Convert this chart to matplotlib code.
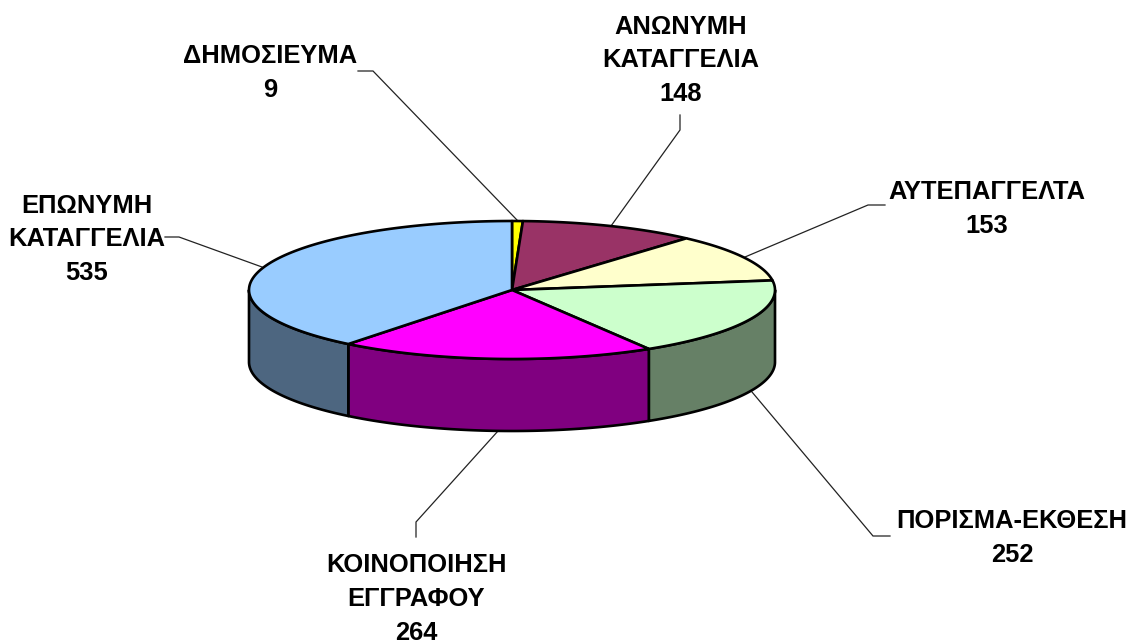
import numpy as np
import matplotlib
matplotlib.use("Agg")
import matplotlib.pyplot as plt
from matplotlib.patches import Polygon

categories = ["ΔΗΜΟΣΙΕΥΜΑ", "ΑΝΩΝΥΜΗ\nΚΑΤΑΓΓΕΛΙΑ", "ΑΥΤΕΠΑΓΓΕΛΤΑ",
              "ΠΟΡΙΣΜΑ-ΕΚΘΕΣΗ", "ΚΟΙΝΟΠΟΙΗΣΗ\nΕΓΓΡΑΦΟΥ", "ΕΠΩΝΥΜΗ\nΚΑΤΑΓΓΕΛΙΑ"]
values = [9, 148, 153, 252, 264, 535]
top_colors = ["#FFFF00", "#993366", "#FFFFCC", "#CCFFCC", "#FF00FF", "#99CCFF"]
side_colors = ["#808000", "#4D1A33", "#808066", "#668066", "#800080", "#4D6680"]

CX, CY, RX, RY, DEPTH = 512, 290, 263, 69, 72
label_pos = [(270, 73), (681, 60), (987, 209), (1012, 538), (416, 599), (87, 239)]
leaders = [
    [(358, 71), (373, 71), (517, 220)],
    [(680, 115), (680, 130), (611, 226)],
    [(885, 205), (868, 205), (745, 257)],
    [(890, 536), (873, 536), (752, 392)],
    [(416, 537), (416, 522), (498, 431)],
    [(165, 237), (179, 237), (262, 267)],
]

plt.rcParams["font.family"] = ["Liberation Sans", "DejaVu Sans"]
fig = plt.figure(figsize=(11.29, 6.44), dpi=100, facecolor="white")
ax = fig.add_axes([0, 0, 1, 1])
ax.set_xlim(0, 1129)
ax.set_ylim(644, 0)
ax.axis("off")


def rim(a0, a1, dy=0.0):
    """Ellipse arc; angles in degrees clockwise from 12 o'clock."""
    t = np.radians(np.linspace(a0, a1, max(int(abs(a1 - a0) * 2), 2)))
    return np.column_stack([CX + RX * np.sin(t), CY - RY * np.cos(t) + dy])


edges = np.concatenate([[0], np.cumsum(values)]) / sum(values) * 360.0
LW = 1.9

# side walls: only the part of each slice facing the viewer (90..270 degrees)
for i in range(len(values)):
    a0, a1 = max(edges[i], 90), min(edges[i + 1], 270)
    if a1 > a0:
        pts = np.vstack([rim(a0, a1), rim(a0, a1, DEPTH)[::-1]])
        ax.add_patch(Polygon(pts, closed=True, fc=side_colors[i], ec="black",
                             lw=LW, joinstyle="round", zorder=2))

# top faces
for i in range(len(values)):
    pts = np.vstack([[(CX, CY)], rim(edges[i], edges[i + 1])])
    ax.add_patch(Polygon(pts, closed=True, fc=top_colors[i], ec="black",
                         lw=LW, joinstyle="round", zorder=3))

# leader lines
for path in leaders:
    xs, ys = zip(*path)
    ax.plot(xs, ys, color="#222222", lw=0.9, zorder=1, solid_joinstyle="miter")

# labels
for name, val, (x, y) in zip(categories, values, label_pos):
    ax.text(x, y, f"{name}\n{val}", ha="center", va="center", fontsize=18.4,
            fontweight="bold", color="black", linespacing=1.5, zorder=4)

fig.savefig("out.png", dpi=100, facecolor="white")
